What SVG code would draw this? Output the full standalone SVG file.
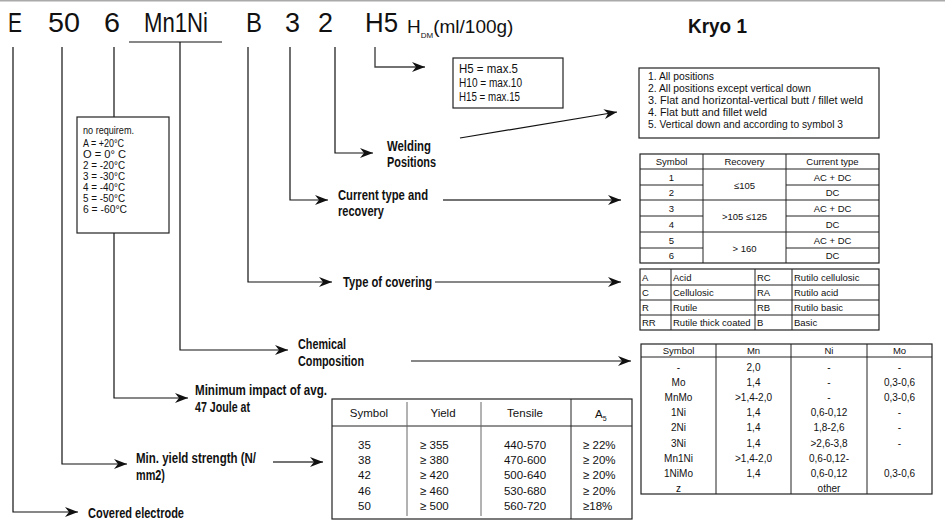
<svg xmlns="http://www.w3.org/2000/svg" width="945" height="521" viewBox="0 0 945 521">
<style>
text{font-family:"Liberation Sans",Arial,sans-serif;fill:#111}
.hd{font-size:28px}
.lb{font-size:14px;font-weight:bold}
.sm{font-size:12.5px}
.xs{font-size:11px}
.tb{font-size:9.5px}
.ty{font-size:11.5px}
.c{text-anchor:middle}
.ln{fill:none;stroke:#111;stroke-width:1.2}
.ln2{fill:none;stroke:#444;stroke-width:1.4}
.box{fill:#fff;stroke:#222;stroke-width:1.2}
.g{stroke:#222;stroke-width:1}
</style>
<defs>
<marker id="ah" markerUnits="userSpaceOnUse" markerWidth="14" markerHeight="10" refX="13" refY="5" orient="auto">
<path d="M0,0 L13,5 L0,10 L4,5 z" fill="#111"/>
</marker>
</defs>
<rect width="945" height="521" fill="#fff"/>
<line x1="0" y1="0.8" x2="945" y2="0.8" stroke="#aaa" stroke-width="1.6"/>

<g id="connectors">
<path class="ln" d="M13,47 V512 H78" marker-end="url(#ah)"/>
<path class="ln" d="M62,47 V464 H127" marker-end="url(#ah)"/>
<path class="ln" d="M114,47 V398 H188" marker-end="url(#ah)"/>
<path class="ln" d="M129,42 H222"/>
<path class="ln" d="M180,42 V350 H288" marker-end="url(#ah)"/>
<path class="ln" d="M248,47 V282 H332" marker-end="url(#ah)"/>
<path class="ln" d="M290,47 V200 H328" marker-end="url(#ah)"/>
<path class="ln" d="M335,47 V153 H373" marker-end="url(#ah)"/>
<path class="ln2" d="M375,47 V67 H425" marker-end="url(#ah)"/>
<path class="ln" d="M460,138 L617,112" marker-end="url(#ah)"/>
<path class="ln2" d="M443,200 H621" marker-end="url(#ah)"/>
<path class="ln" d="M435,282 H621" marker-end="url(#ah)"/>
<path class="ln" d="M411,361 H631" marker-end="url(#ah)"/>
<path class="ln2" d="M273,462 H323" marker-end="url(#ah)"/>
</g>

<g id="header">
<text class="hd" x="8" y="32" textLength="14" lengthAdjust="spacingAndGlyphs">E</text>
<text class="hd" x="48" y="32" textLength="32" lengthAdjust="spacingAndGlyphs">50</text>
<text class="hd" x="104" y="32" textLength="16" lengthAdjust="spacingAndGlyphs">6</text>
<text class="hd" x="144" y="32" textLength="64" lengthAdjust="spacingAndGlyphs">Mn1Ni</text>
<text class="hd" x="246" y="32" textLength="16" lengthAdjust="spacingAndGlyphs">B</text>
<text class="hd" x="285" y="32" textLength="15" lengthAdjust="spacingAndGlyphs">3</text>
<text class="hd" x="318" y="32" textLength="15" lengthAdjust="spacingAndGlyphs">2</text>
<text class="hd" x="365" y="32" textLength="33" lengthAdjust="spacingAndGlyphs">H5</text>
<text x="407" y="33" style="font-size:19px">H<tspan dy="4.5" style="font-size:8px">DM</tspan><tspan dy="-4.5">(ml/100g)</tspan></text>
<text x="688" y="33" style="font-size:21px;font-weight:bold" textLength="59" lengthAdjust="spacingAndGlyphs">Kryo 1</text>
</g>

<g id="h-box">
<rect class="box" x="453" y="58" width="110" height="50"/>
<text class="sm" x="459" y="73" textLength="59" lengthAdjust="spacingAndGlyphs">H5   = max.5</text>
<text class="sm" x="459" y="87" textLength="63" lengthAdjust="spacingAndGlyphs">H10 = max.10</text>
<text class="sm" x="459" y="101" textLength="61" lengthAdjust="spacingAndGlyphs">H15 = max.15</text>
</g>

<g id="temp-box">
<rect class="box" x="77" y="117" width="92" height="116"/>
<text class="xs" x="83" y="134" textLength="51" lengthAdjust="spacingAndGlyphs">no requirem.</text>
<text class="xs" x="83" y="147" textLength="41" lengthAdjust="spacingAndGlyphs">A = +20°C</text>
<text class="xs" x="83" y="158" textLength="43" lengthAdjust="spacingAndGlyphs">O =   0° C</text>
<text class="xs" x="83" y="169" textLength="42" lengthAdjust="spacingAndGlyphs">2  = -20°C</text>
<text class="xs" x="83" y="180" textLength="42" lengthAdjust="spacingAndGlyphs">3  = -30°C</text>
<text class="xs" x="83" y="191" textLength="42" lengthAdjust="spacingAndGlyphs">4 =  -40°C</text>
<text class="xs" x="83" y="202" textLength="42" lengthAdjust="spacingAndGlyphs">5 =  -50°C</text>
<text class="xs" x="83" y="213" textLength="44" lengthAdjust="spacingAndGlyphs">6 =  -60°C</text>
</g>

<g id="labels">
<text class="lb" x="387" y="151" textLength="44" lengthAdjust="spacingAndGlyphs">Welding</text>
<text class="lb" x="387" y="167" textLength="49" lengthAdjust="spacingAndGlyphs">Positions</text>
<text class="lb" x="338" y="200" textLength="90" lengthAdjust="spacingAndGlyphs">Current type and</text>
<text class="lb" x="338" y="216" textLength="46" lengthAdjust="spacingAndGlyphs">recovery</text>
<text class="lb" x="343" y="287" textLength="89" lengthAdjust="spacingAndGlyphs">Type of covering</text>
<text class="lb" x="298" y="349" textLength="48" lengthAdjust="spacingAndGlyphs">Chemical</text>
<text class="lb" x="298" y="366" textLength="66" lengthAdjust="spacingAndGlyphs">Composition</text>
<text class="lb" x="195" y="395" textLength="132" lengthAdjust="spacingAndGlyphs">Minimum impact of avg.</text>
<text class="lb" x="195" y="412" textLength="55" lengthAdjust="spacingAndGlyphs">47 Joule at</text>
<text class="lb" x="136" y="463" textLength="120" lengthAdjust="spacingAndGlyphs">Min. yield strength (N/</text>
<text class="lb" x="136" y="480" textLength="29" lengthAdjust="spacingAndGlyphs">mm2)</text>
<text class="lb" x="88" y="518" textLength="96" lengthAdjust="spacingAndGlyphs">Covered electrode</text>
</g>

<g id="positions-box">
<rect class="box" x="639" y="68" width="240" height="70"/>
<text class="xs" x="648" y="79.5" textLength="66" lengthAdjust="spacingAndGlyphs">1. All positions</text>
<text class="xs" x="648" y="91.5" textLength="163" lengthAdjust="spacingAndGlyphs">2. All positions except vertical down</text>
<text class="xs" x="648" y="104" textLength="215" lengthAdjust="spacingAndGlyphs">3. Flat and horizontal-vertical butt / fillet weld</text>
<text class="xs" x="648" y="116" textLength="119" lengthAdjust="spacingAndGlyphs">4. Flat butt and fillet weld</text>
<text class="xs" x="648" y="128" textLength="195" lengthAdjust="spacingAndGlyphs">5. Vertical down and according to symbol 3</text>
</g>

<g id="current-table">
<rect class="box" x="640" y="154" width="239" height="109"/>
<g class="g">
<line x1="640" y1="169" x2="879" y2="169"/>
<line x1="640" y1="200" x2="879" y2="200"/>
<line x1="640" y1="232" x2="879" y2="232"/>
<line x1="640" y1="185" x2="703" y2="185"/>
<line x1="786" y1="185" x2="879" y2="185"/>
<line x1="640" y1="216" x2="703" y2="216"/>
<line x1="786" y1="216" x2="879" y2="216"/>
<line x1="640" y1="248" x2="703" y2="248"/>
<line x1="786" y1="248" x2="879" y2="248"/>
<line x1="703" y1="154" x2="703" y2="263"/>
<line x1="786" y1="154" x2="786" y2="263"/>
</g>
<text class="tb c" x="671.5" y="165">Symbol</text>
<text class="tb c" x="744.5" y="165">Recovery</text>
<text class="tb c" x="832.5" y="165">Current type</text>
<text class="tb c" x="671.5" y="180.5">1</text>
<text class="tb c" x="671.5" y="196">2</text>
<text class="tb c" x="671.5" y="212">3</text>
<text class="tb c" x="671.5" y="227.5">4</text>
<text class="tb c" x="671.5" y="243.5">5</text>
<text class="tb c" x="671.5" y="259">6</text>
<text class="tb c" x="744.5" y="188.5">≤105</text>
<text class="tb c" x="744.5" y="219.5">&gt;105 ≤125</text>
<text class="tb c" x="744.5" y="251.5">&gt; 160</text>
<text class="tb c" x="832.5" y="180.5">AC + DC</text>
<text class="tb c" x="832.5" y="196">DC</text>
<text class="tb c" x="832.5" y="212">AC + DC</text>
<text class="tb c" x="832.5" y="227.5">DC</text>
<text class="tb c" x="832.5" y="243.5">AC + DC</text>
<text class="tb c" x="832.5" y="259">DC</text>
</g>

<g id="covering-table">
<rect class="box" x="640" y="269" width="239" height="61"/>
<g class="g">
<line x1="640" y1="285" x2="879" y2="285"/>
<line x1="640" y1="300" x2="879" y2="300"/>
<line x1="640" y1="315" x2="879" y2="315"/>
<line x1="671" y1="269" x2="671" y2="330"/>
<line x1="755" y1="269" x2="755" y2="330"/>
<line x1="792" y1="269" x2="792" y2="330"/>
</g>
<text class="tb" x="642" y="281">A</text>
<text class="tb" x="673" y="281">Acid</text>
<text class="tb" x="757" y="281">RC</text>
<text class="tb" x="794" y="281">Rutilo cellulosic</text>
<text class="tb" x="642" y="296">C</text>
<text class="tb" x="673" y="296">Cellulosic</text>
<text class="tb" x="757" y="296">RA</text>
<text class="tb" x="794" y="296">Rutilo acid</text>
<text class="tb" x="642" y="311">R</text>
<text class="tb" x="673" y="311">Rutile</text>
<text class="tb" x="757" y="311">RB</text>
<text class="tb" x="794" y="311">Rutilo basic</text>
<text class="tb" x="642" y="326">RR</text>
<text class="tb" x="673" y="326">Rutile thick coated</text>
<text class="tb" x="757" y="326">B</text>
<text class="tb" x="794" y="326">Basic</text>
</g>

<g id="chem-table">
<rect class="box" x="641" y="344" width="291" height="150"/>
<g class="g">
<line x1="641" y1="357" x2="932" y2="357"/>
<line x1="716" y1="344" x2="716" y2="494"/>
<line x1="791" y1="344" x2="791" y2="494"/>
<line x1="867" y1="344" x2="867" y2="494"/>
</g>
<text class="tb c" x="678.5" y="353.5">Symbol</text>
<text class="tb c" x="753.5" y="353.5">Mn</text>
<text class="tb c" x="829" y="353.5">Ni</text>
<text class="tb c" x="899.5" y="353.5">Mo</text>
<g class="tb" style="font-size:10px">
<text class="c" x="678.5" y="370.5">-</text><text class="c" x="753.5" y="370.5">2,0</text><text class="c" x="829" y="370.5">-</text><text class="c" x="899.5" y="370.5">-</text>
<text class="c" x="678.5" y="385.5">Mo</text><text class="c" x="753.5" y="385.5">1,4</text><text class="c" x="829" y="385.5">-</text><text class="c" x="899.5" y="385.5">0,3-0,6</text>
<text class="c" x="678.5" y="400.5">MnMo</text><text class="c" x="753.5" y="400.5">&gt;1,4-2,0</text><text class="c" x="829" y="400.5">-</text><text class="c" x="899.5" y="400.5">0,3-0,6</text>
<text class="c" x="678.5" y="415.5">1Ni</text><text class="c" x="753.5" y="415.5">1,4</text><text class="c" x="829" y="415.5">0,6-0,12</text><text class="c" x="899.5" y="415.5">-</text>
<text class="c" x="678.5" y="430.5">2Ni</text><text class="c" x="753.5" y="430.5">1,4</text><text class="c" x="829" y="430.5">1,8-2,6</text><text class="c" x="899.5" y="430.5">-</text>
<text class="c" x="678.5" y="446.5">3Ni</text><text class="c" x="753.5" y="446.5">1,4</text><text class="c" x="829" y="446.5">&gt;2,6-3,8</text><text class="c" x="899.5" y="446.5">-</text>
<text class="c" x="678.5" y="461.5">Mn1Ni</text><text class="c" x="753.5" y="461.5">&gt;1,4-2,0</text><text class="c" x="829" y="461.5">0,6-0,12-</text>
<text class="c" x="678.5" y="476.5">1NiMo</text><text class="c" x="753.5" y="476.5">1,4</text><text class="c" x="829" y="476.5">0,6-0,12</text><text class="c" x="899.5" y="476.5">0,3-0,6</text>
<text class="c" x="678.5" y="491.5">z</text><text class="c" x="829" y="491.5">other</text>
</g>
</g>

<g id="yield-table">
<rect class="box" x="332" y="399" width="300" height="120"/>
<g class="g">
<line x1="332" y1="426" x2="632" y2="426"/>
<line x1="407" y1="402" x2="407" y2="516" stroke="#666"/>
<line x1="481" y1="402" x2="481" y2="516" stroke="#666"/>
<line x1="571" y1="399" x2="571" y2="519"/>
</g>
<g class="ty">
<text class="c" x="369" y="417">Symbol</text>
<text class="c" x="443" y="417">Yield</text>
<text class="c" x="525" y="417">Tensile</text>
<text x="595" y="418">A<tspan dy="3" style="font-size:7px">5</tspan></text>
<text x="358" y="449">35</text><text x="420" y="449">≥ 355</text><text class="c" x="525" y="449">440-570</text><text x="583" y="449">≥ 22%</text>
<text x="358" y="464">38</text><text x="420" y="464">≥ 380</text><text class="c" x="525" y="464">470-600</text><text x="583" y="464">≥ 20%</text>
<text x="358" y="479">42</text><text x="420" y="479">≥ 420</text><text class="c" x="525" y="479">500-640</text><text x="583" y="479">≥ 20%</text>
<text x="358" y="495">46</text><text x="420" y="495">≥ 460</text><text class="c" x="525" y="495">530-680</text><text x="583" y="495">≥ 20%</text>
<text x="358" y="510">50</text><text x="420" y="510">≥ 500</text><text class="c" x="525" y="510">560-720</text><text x="583" y="510">≥18%</text>
</g>
</g>
</svg>
